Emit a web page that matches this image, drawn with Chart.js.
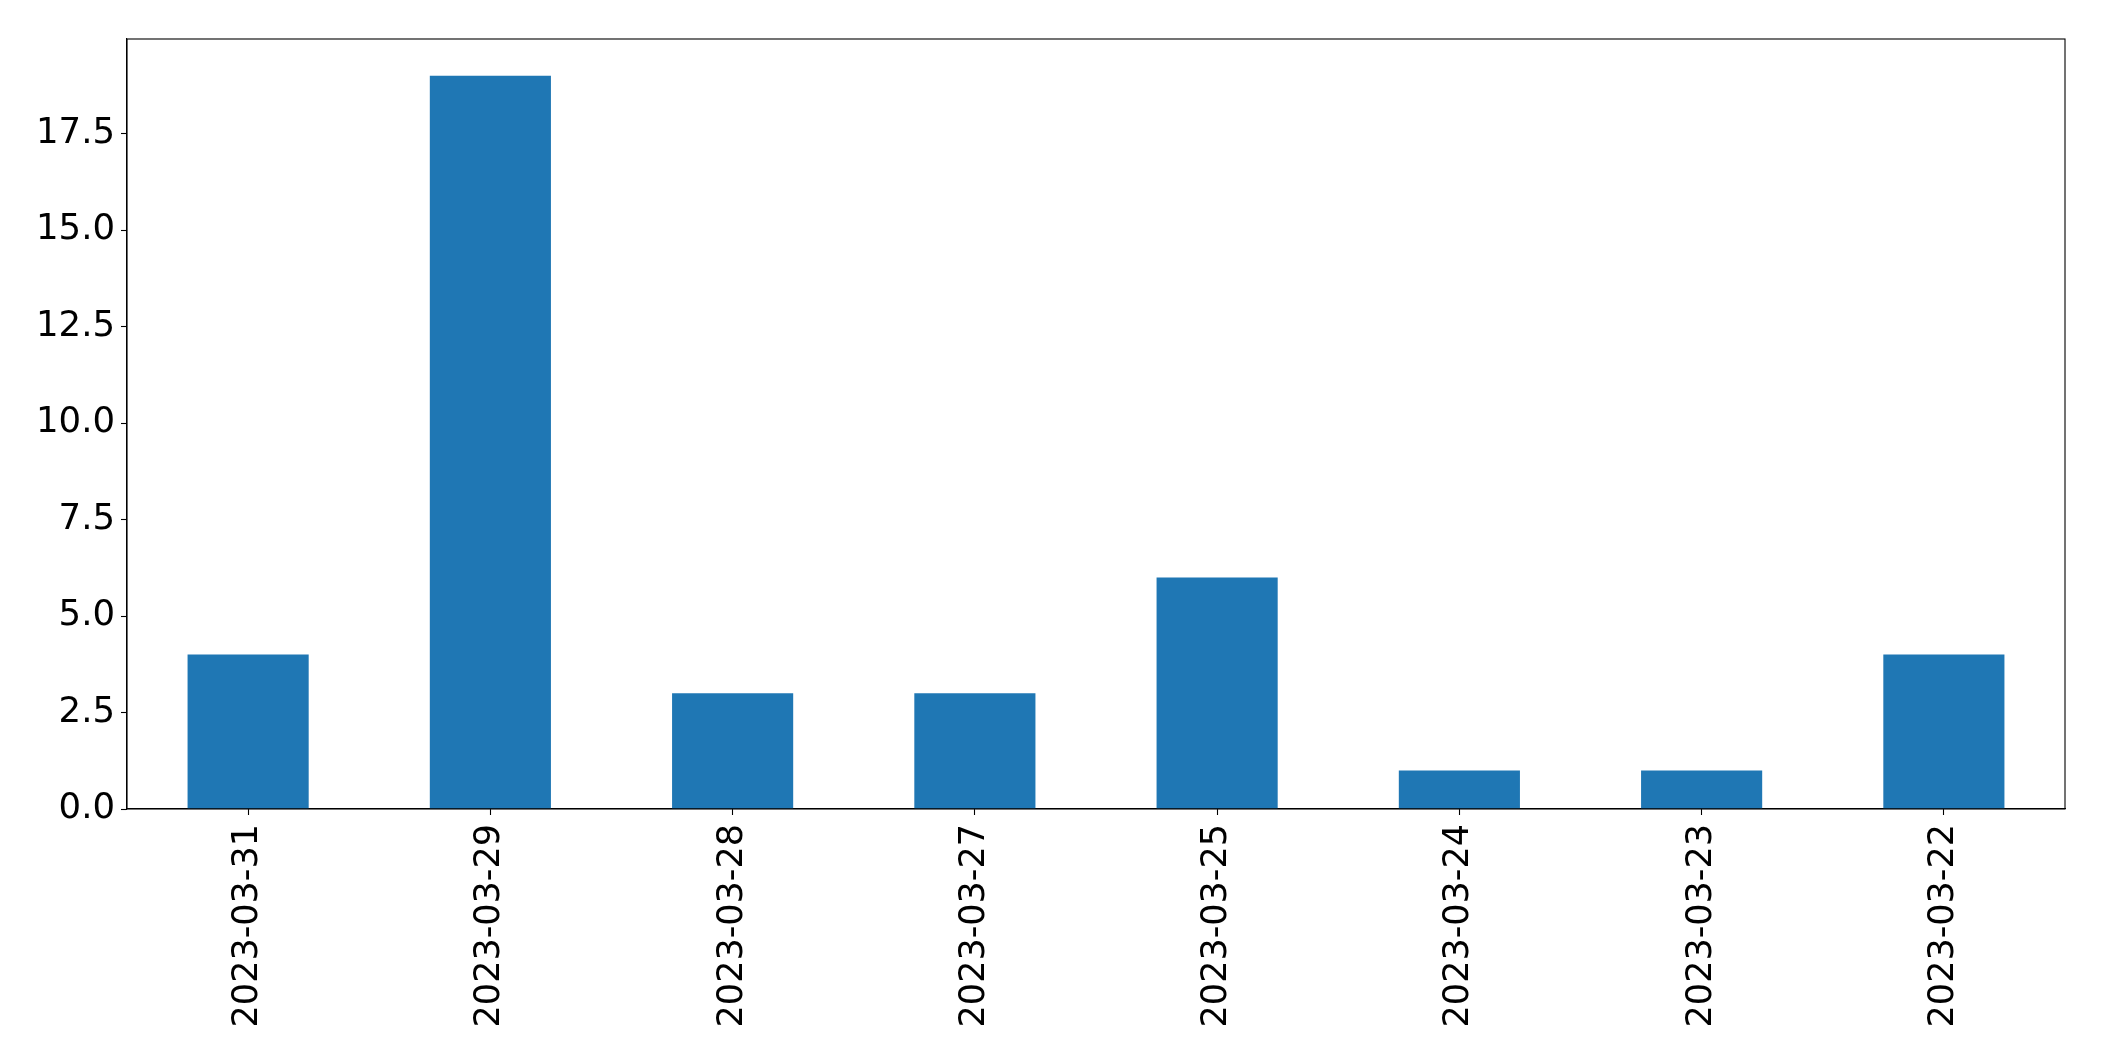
<!DOCTYPE html>
<html>
<head>
<meta charset="utf-8">
<script src="https://cdn.jsdelivr.net/npm/chart.js@4/dist/chart.umd.min.js"></script>
<style>
html,body{margin:0;padding:0;background:#fff;}
#wrap{width:2104px;height:1061px;}
</style>
</head>
<body>
<div id="wrap"><canvas id="c" width="2104" height="1061"></canvas></div>
<script>
const categories = ['2023-03-31','2023-03-29','2023-03-28','2023-03-27','2023-03-25','2023-03-24','2023-03-23','2023-03-22'];
const counts = [4, 19, 3, 3, 6, 1, 1, 4];
const yMax = 19.95;
const yStep = 2.5;

const frame = {
  id: 'frame',
  afterDraw(chart) {
    const a = chart.chartArea, ctx = chart.ctx;
    ctx.save();
    ctx.strokeStyle = '#000';
    ctx.lineWidth = 1.1;
    ctx.strokeRect(a.left, a.top, a.right - a.left, a.bottom - a.top);
    ctx.restore();
  }
};

new Chart(document.getElementById('c'), {
  type: 'bar',
  data: {
    labels: categories,
    datasets: [{
      data: counts,
      backgroundColor: '#1f77b4',
      borderWidth: 0,
      barPercentage: 0.5,
      categoryPercentage: 1.0
    }]
  },
  options: {
    responsive: false,
    animation: false,
    devicePixelRatio: 1,
    layout: { padding: { top: 39, right: 39, left: 0, bottom: 0 } },
    plugins: { legend: { display: false }, tooltip: { enabled: false } },
    scales: {
      x: {
        grid: { display: true, offset: false, drawOnChartArea: false, drawTicks: true, tickLength: 6, color: '#000', tickWidth: 1.1 },
        border: { display: true, color: '#000', width: 1.1 },
        ticks: {
          color: '#000',
          font: { family: 'DejaVu Sans', size: 35 },
          maxRotation: 90, minRotation: 90,
          padding: 9,
          autoSkip: false
        },
        afterFit(s) { s.height = 252; }
      },
      y: {
        min: 0, max: yMax,
        grid: { display: true, drawOnChartArea: false, drawTicks: true, tickLength: 6, color: '#000', tickWidth: 1.1 },
        border: { display: true, color: '#000', width: 1.1 },
        ticks: {
          stepSize: yStep,
          includeBounds: false,
          color: '#000',
          font: { family: 'DejaVu Sans', size: 35.5 },
          padding: 6,
          callback: v => Number(v).toFixed(1)
        },
        afterFit(s) { s.width = 127; }
      }
    }
  },
  plugins: [frame]
});
</script>
</body>
</html>
